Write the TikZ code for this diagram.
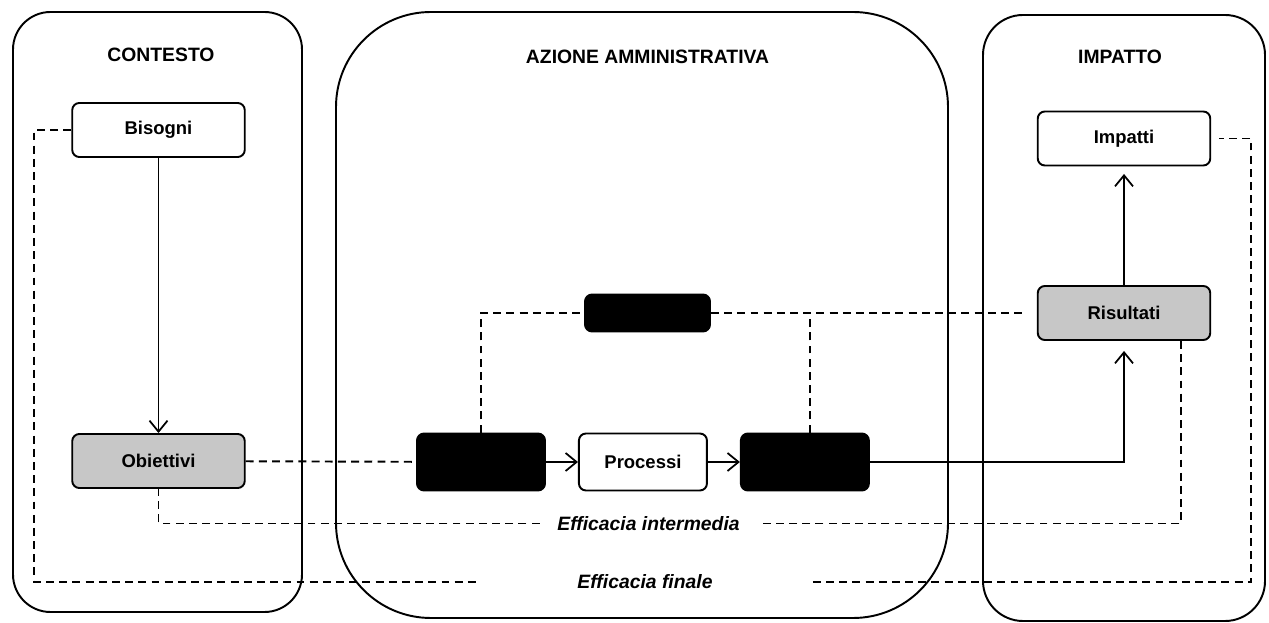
\documentclass[tikz,border=0pt]{standalone}
\usepackage{fontspec}
\setmainfont{Liberation Sans}
\usetikzlibrary{positioning}
\usetikzlibrary{arrows, arrows.meta}

\tikzset{
  panel/.style={draw, line width=1.1pt},
  box/.style={draw, line width=1.1pt, rounded corners=4pt, fill=white,
    minimum width=3.45cm, minimum height=1.08cm,
    font=\bfseries\fontsize{10.5}{12}\selectfont},
  greybox/.style={box, fill=black!22},
  smallbox/.style={box, minimum width=2.56cm, minimum height=1.14cm},
  blackbox/.style={smallbox, fill=black},
  paneltitle/.style={font=\bfseries\fontsize{11}{13}\selectfont},
  efflabel/.style={font=\bfseries\itshape\fontsize{11}{13}\selectfont},
  link/.style={line width=1pt, -{Straight Barb[length=2.2mm, width=3.6mm]}},
  dashlink/.style={line width=1.1pt, dash pattern=on 4.5pt off 3pt},
}

\begin{document}
\begin{tikzpicture}[node distance=0.64cm]
\useasboundingbox (0,0) rectangle (25.38,12.44);

% the three areas
\draw[panel, rounded corners=0.75cm] (0.26,0.2) rectangle (6.04,12.2);
\draw[panel, rounded corners=1.9cm] (6.72,0.08) rectangle (18.96,12.2);
\draw[panel, rounded corners=0.8cm] (19.66,0.02) rectangle (25.3,12.14);

\node[paneltitle] (contesto) at (3.22,11.34) {CONTESTO};
\node[paneltitle] (azione)   at (12.95,11.3) {AZIONE AMMINISTRATIVA};
\node[paneltitle] (impatto)  at (22.4,11.3)  {IMPATTO};

\node[box]     (bisogni)   at (3.17,9.84) {Bisogni};
\node[greybox] (obiettivi) at (3.17,3.22) {Obiettivi};

\node[blackbox]                  (input)    at (9.62,3.2) {};
\node[smallbox, right=of input]  (processi) {Processi};
\node[blackbox, right=of processi] (output) {};
\node[blackbox, minimum width=2.5cm, minimum height=0.74cm] (risorse) at (12.95,6.18) {};

\node[greybox] (risultati) at (22.48,6.18) {Risultati};
\node[box]     (impatti)   at (22.48,9.67) {Impatti};

\node[efflabel, inner xsep=0.35cm] (effint) at (12.97,1.97) {Efficacia intermedia};
\node[efflabel, inner xsep=2cm]    (efffin) at (12.9,0.8)   {Efficacia finale};

\draw[link] (bisogni) -- (obiettivi);
\draw[dashlink] (obiettivi) -- (input);
\draw[link] (input) -- (processi);
\draw[link] (processi) -- (output);
\draw[link, shorten >=0.2cm] (output) -| (risultati);
\draw[link, shorten >=0.15cm] (risultati) -- (impatti);

\draw[dashlink] (input.north) |- (risorse.west);
\draw[dashlink, shorten >=0.3cm] (risorse.east) -- (risultati.west);
\draw[dashlink] ([xshift=0.1cm]output.north) -- ([xshift=0.1cm]output.north |- risorse.east);

\draw[dashlink] ([xshift=-0.6cm]risultati.south east) |- (effint.east);
\draw[dashlink] (effint.west) -| (obiettivi.south);

\draw[dashlink] (bisogni.west) -- ++(-0.74,0) |- (efffin.west);
\draw[dashlink, shorten >=0.15cm] (efffin.east) -| ([xshift=0.8cm]impatti.east) -- (impatti.east);
\end{tikzpicture}
\end{document}
